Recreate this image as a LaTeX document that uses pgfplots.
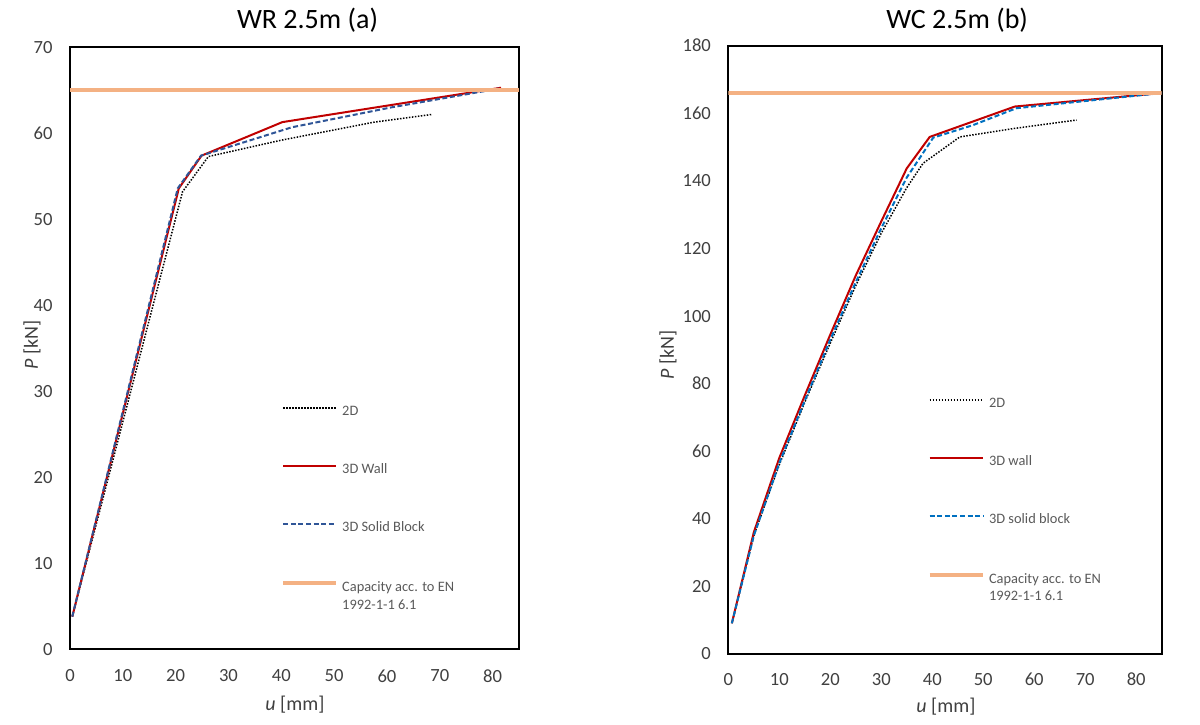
\documentclass[border=0pt]{standalone}
\usepackage{fontspec}
\setmainfont{Carlito}
\usepackage{pgfplots}
\pgfplotsset{compat=1.18}
\definecolor{cred}{RGB}{192,0,0}
\definecolor{cblueA}{RGB}{47,85,151}
\definecolor{cblueB}{RGB}{0,112,192}
\definecolor{corange}{RGB}{244,177,131}
\definecolor{cgray}{RGB}{89,89,89}
\definecolor{ctick}{RGB}{64,64,64}
\pgfplotsset{
  base/.style={
    scale only axis, anchor=south west,
    xmin=0, xmax=85, xtick={0,10,...,80},
    axis line style={black, line width=1pt},
    major tick length=0pt,
    /pgf/number format/assume math mode=true,
    ticklabel style={font=\fontsize{9.3}{11}\selectfont, text=ctick},
    yticklabel style={inner sep=0pt, anchor=east, xshift=-8.5pt},
    xticklabel style={inner sep=0pt, anchor=north, yshift=-10pt},
    label style={font=\fontsize{10}{12}\selectfont, text=ctick},
    title style={font=\fontsize{14}{16}\selectfont, anchor=base, inner sep=0pt},
    legend cell align=left,
    legend style={draw=none, fill=none, inner sep=0pt, row sep=18.5pt, column sep=0pt,
      font=\fontsize{7.2}{8.6}\selectfont, text=cgray, anchor=north west},
    clip=true,
  },
  dot2d/.style={black, line width=0.75pt, dash pattern=on 0.75pt off 0.75pt},
  wall/.style={cred, line width=1pt},
  cap/.style={corange, line width=2pt},
}
\begin{document}
\begin{tikzpicture}
\path[use as bounding box] (0,0) rectangle (600pt,362pt);
% ---------------- left -----------------
\begin{axis}[base,
  at={(35pt,37.35pt)}, width=224.5pt, height=301pt,
  ymin=0, ymax=70, ytick={0,10,...,70},
  title={WR 2.5m (a)},
  title style={at={(axis description cs:0.529,1.0105)}},
  xlabel={\textit{u} [mm]}, ylabel={\textit{P} [kN]},
  xlabel style={at={(axis description cs:0.501,-0.0917)}, anchor=center},
  ylabel style={at={(axis description cs:-0.0846,0.5055)}, anchor=center},
  legend style={at={(axis description cs:0.4695,0.4107)}},
  legend image code/.code={\draw[#1] (0pt,2.3pt) -- (26.5pt,2.3pt);},
]
\addplot[dot2d] coordinates {(0.43,3.8) (21.3,53.2) (26.2,57.3) (40,59.2) (57.6,61.3) (68.6,62.2)};
\addlegendentry{2D}
\addplot[wall] coordinates {(0.43,3.8) (20.6,53.6) (24.9,57.4) (40.2,61.3) (81.6,65.3)};
\addlegendentry{3D Wall}
\addplot[cblueA, line width=1pt, dash pattern=on 2.5pt off 1.3pt] coordinates {(0.43,3.8) (20.4,53.6) (24.8,57.4) (42,60.7) (60.7,63.0) (81.2,65.2)};
\addlegendentry{3D Solid Block}
\addplot[cap] coordinates {(0,65) (85,65)};
\addlegendentry{\begin{tabular}[t]{@{}l@{}}Capacity acc. to EN\\1992-1-1 6.1\end{tabular}}
\end{axis}
% ---------------- right -----------------
\begin{axis}[base,
  at={(364.15pt,35pt)}, width=216.7pt, height=304.15pt,
  ymin=0, ymax=180, ytick={0,20,...,180},
  title={WC 2.5m (b)},
  title style={at={(axis description cs:0.528,1.0082)}},
  xlabel={\textit{u} [mm]}, ylabel={\textit{P} [kN]},
  xlabel style={at={(axis description cs:0.502,-0.0863)}, anchor=center},
  ylabel style={at={(axis description cs:-0.139,0.4915)}, anchor=center},
  xticklabel style={yshift=0.7pt},
  legend style={at={(axis description cs:0.459,0.4275)}},
  legend image code/.code={\draw[#1] (0pt,2.3pt) -- (26.7pt,2.3pt);},
]
\addplot[dot2d] coordinates {(0.7,9.1) (5,35) (10,56) (15,74.5) (20,92) (25,109) (30,124.5) (35,138) (38.2,145.2) (45.4,153) (56,155.5) (68.3,158)};
\addlegendentry{2D}
\addplot[wall] coordinates {(0.7,9.1) (5,36) (10,58) (15,76.5) (20,94.5) (25,112) (30,128) (35,143.7) (39.5,153) (56.2,162) (85,166)};
\addlegendentry{3D wall}
\addplot[cblueB, line width=1pt, dash pattern=on 2.5pt off 1.3pt] coordinates {(0.7,9.1) (5,35) (10,56.5) (15,75) (20,93) (25,110) (30,126) (35,141) (40.2,152.8) (48,156.5) (56.5,161.5) (85,166)};
\addlegendentry{3D solid block}
\addplot[cap] coordinates {(0,166) (85,166)};
\addlegendentry{\begin{tabular}[t]{@{}l@{}}Capacity acc. to EN\\1992-1-1 6.1\end{tabular}}
\end{axis}
\end{tikzpicture}
\end{document}
